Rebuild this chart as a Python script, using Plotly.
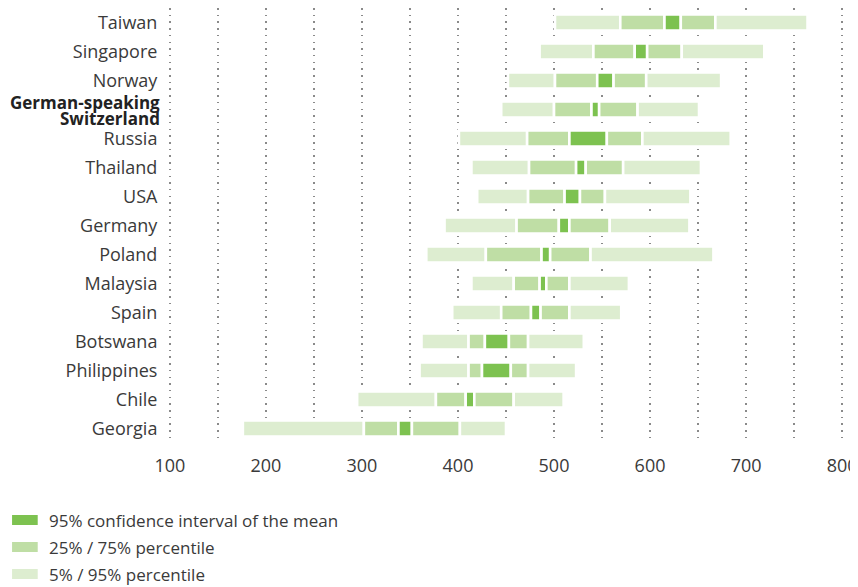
import plotly.graph_objects as go

countries = ["Taiwan", "Singapore", "Norway", "German-speaking Switzerland", "Russia",
             "Thailand", "USA", "Germany", "Poland", "Malaysia", "Spain", "Botswana",
             "Philippines", "Chile", "Georgia"]
p5 = [501, 485, 452, 445, 401, 414, 420, 386, 367, 414, 394, 362, 360, 295, 176]
p25 = [569, 541, 501, 500, 472, 474, 473, 461, 429, 458, 445, 411, 411, 377, 302]
ci_low = [615, 584, 545, 539, 516, 523, 511, 505, 487, 485, 476, 428, 425, 408, 338]
ci_high = [632, 597, 562, 547, 555, 533, 527, 516, 496, 492, 486, 453, 455, 417, 352]
p75 = [668, 633, 596, 587, 592, 572, 553, 558, 538, 516, 516, 473, 473, 458, 402]
p95 = [764, 719, 674, 651, 684, 653, 642, 641, 666, 578, 570, 531, 523, 510, 450]

tick_vals = [100, 150, 200, 250, 300, 350, 400, 450, 500, 550, 600, 650, 700, 750, 800]
tick_text = ["100", "", "200", "", "300", "", "400", "", "500", "", "600", "", "700", "", "800"]

legend_labels = ["95% confidence interval of the mean", "25% / 75% percentile", "5% / 95% percentile"]

C_DARK = "#7dc250"
C_MED = "#bfdea5"
C_LIGHT = "#ddedd0"
FONT = "Open Sans"
TXT = "#3a3a3a"

fig = go.Figure()

segments = [
    (p5, p25, C_LIGHT),
    (p25, ci_low, C_MED),
    (ci_low, ci_high, C_DARK),
    (ci_high, p75, C_MED),
    (p75, p95, C_LIGHT),
]
for lo, hi, col in segments:
    fig.add_trace(go.Bar(
        y=countries, base=lo, x=[h - l for l, h in zip(lo, hi)],
        orientation="h", width=0.56,
        marker=dict(color=col, line=dict(color="white", width=2.6)),
        showlegend=False, hoverinfo="skip",
    ))

ticktext_y = [c if c != "German-speaking Switzerland" else "" for c in countries]

# page has an 8px body margin; figure drawn at 850x579
PLOT_W, PLOT_H = 687, 435
X0_PAGE = 167  # page x of the plot area's left edge

fig.update_layout(
    width=850, height=579,
    margin=dict(l=159, r=4, t=0, b=144),
    paper_bgcolor="white", plot_bgcolor="white",
    barmode="overlay",
    font=dict(family=FONT, color=TXT, size=18),
    xaxis=dict(
        range=[97, 803], tickvals=tick_vals, ticktext=tick_text,
        showgrid=True, gridcolor="#8a8a8a", gridwidth=1.5, griddash="1.5px,5.2px",
        zeroline=False, showline=False,
        ticks="outside", ticklen=6, tickcolor="rgba(0,0,0,0)",
        ticklabeloverflow="allow",
        tickfont=dict(family=FONT, size=18, color=TXT),
    ),
    yaxis=dict(
        categoryorder="array", categoryarray=countries, autorange="reversed",
        tickvals=countries, ticktext=ticktext_y,
        showgrid=False, zeroline=False, showline=False,
        ticks="outside", ticklen=5, tickcolor="rgba(0,0,0,0)",
        tickfont=dict(family=FONT, size=18, color=TXT),
    ),
)

# bold two-line label
fig.add_annotation(text="<b>German-speaking</b>", xref="paper", yref="y",
                   x=0, y="German-speaking Switzerland", xanchor="right", yanchor="middle",
                   xshift=-5, yshift=7, showarrow=False,
                   font=dict(family=FONT, size=17, color="#222222"))
fig.add_annotation(text="<b>Switzerland</b>", xref="paper", yref="y",
                   x=0, y="German-speaking Switzerland", xanchor="right", yanchor="middle",
                   xshift=-5, yshift=-9, showarrow=False,
                   font=dict(family=FONT, size=17, color="#222222"))

# legend (page pixel positions converted to paper coordinates)
def px(xpage):
    return (xpage - X0_PAGE) / PLOT_W

def py(ypage):
    return 1 - (ypage - 8) / PLOT_H

leg_colors = [C_DARK, C_MED, C_LIGHT]
leg_y = [520, 547, 574]
for lab, col, yy in zip(legend_labels, leg_colors, leg_y):
    fig.add_shape(type="rect", xref="paper", yref="paper",
                  x0=px(10), x1=px(36), y0=py(yy + 5), y1=py(yy - 5),
                  fillcolor=col, line=dict(width=0))
    fig.add_annotation(text=lab, xref="paper", yref="paper",
                       x=px(45), y=py(yy), xanchor="left", yanchor="middle",
                       showarrow=False, font=dict(family=FONT, size=17, color=TXT))

fig.write_html("out.html")
